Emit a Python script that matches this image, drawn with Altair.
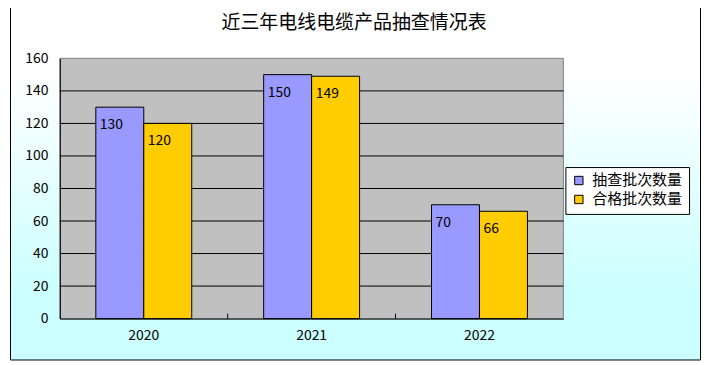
import altair as alt
import pandas as pd

years = ["2020", "2021", "2022"]
series = ["抽查批次数量", "合格批次数量"]
sampled = [130, 150, 70]
qualified = [120, 149, 66]
colors = ["#9999FF", "#FFCC00"]
y_ticks = [0, 20, 40, 60, 80, 100, 120, 140, 160]
grid_vals = [20, 40, 60, 80, 100, 120, 140]
title_text = "近三年电线电缆产品抽查情况表"

FONT = "Noto Sans CJK SC"
W, H = 505, 261

rows = []
for i, yr in enumerate(years):
    rows.append({"year": yr, "series": series[0], "value": sampled[i]})
    rows.append({"year": yr, "series": series[1], "value": qualified[i]})
df = pd.DataFrame(rows)

xscale = alt.Scale(domain=years, paddingInner=0, paddingOuter=0)
yscale = alt.Scale(domain=[0, 160], nice=False)
offscale = alt.Scale(domain=series, paddingInner=0, paddingOuter=0.75)

xaxis = alt.Axis(title=None, labelAngle=0, ticks=False, domain=True, domainColor="black",
                 labelFont=FONT, labelFontSize=14, labelColor="black", labelPadding=10,
                 zindex=1)
yaxis = alt.Axis(title=None, values=y_ticks, grid=False, ticks=False, domainColor="black",
                 labelOverlap=False, labelFont=FONT, labelFontSize=14, labelColor="black",
                 labelPadding=12, zindex=1)

one = pd.DataFrame({"a": [0]})

frame = alt.Chart(one).mark_rect(
    fill=alt.LinearGradient(
        gradient="linear", x1=0, y1=0, x2=0, y2=1,
        stops=[alt.GradientStop(color="#FFFFFF", offset=0),
               alt.GradientStop(color="#FFFFFF", offset=0.2),
               alt.GradientStop(color="#CCFFFF", offset=0.8),
               alt.GradientStop(color="#CCFFFF", offset=1)]),
    stroke="black", strokeWidth=1,
).encode(x=alt.value(-49.5), x2=alt.value(642.5), y=alt.value(-54.5), y2=alt.value(302.5))

plotbg = alt.Chart(one).mark_rect(fill="#C0C0C0", stroke="#808080", strokeWidth=1).encode(
    x=alt.value(0), x2=alt.value(W), y=alt.value(0), y2=alt.value(H))

grid = alt.Chart(pd.DataFrame({"g": grid_vals})).mark_rule(color="black", strokeWidth=1).encode(
    y=alt.Y("g:Q", scale=yscale, axis=yaxis), x=alt.value(0), x2=alt.value(W))

bars = alt.Chart(df).mark_bar(stroke="black", strokeWidth=1).encode(
    x=alt.X("year:N", scale=xscale, sort=years, axis=xaxis),
    xOffset=alt.XOffset("series:N", scale=offscale, sort=series),
    y=alt.Y("value:Q", scale=yscale, axis=yaxis),
    color=alt.Color("series:N", sort=series, scale=alt.Scale(domain=series, range=colors),
                    legend=alt.Legend(title=None, orient="none", legendX=507, legendY=109,
                                      padding=6, strokeColor="black", fillColor="white",
                                      symbolType="square", symbolSize=70, symbolStrokeColor="black",
                                      symbolStrokeWidth=1, labelFont=FONT, labelFontSize=15,
                                      labelColor="black", labelOffset=6, rowPadding=3, zindex=1)),
)

labels = alt.Chart(df).mark_text(align="left", baseline="middle", dx=-20, dy=18,
                                 font=FONT, fontSize=14, color="black").encode(
    x=alt.X("year:N", scale=xscale, sort=years, axis=xaxis),
    xOffset=alt.XOffset("series:N", scale=offscale, sort=series),
    y=alt.Y("value:Q", scale=yscale, axis=yaxis),
    text="value:Q",
)

ticks = alt.Chart(pd.DataFrame({"year": years[1:]})).mark_rule(color="black").encode(
    x=alt.X("year:N", scale=xscale, sort=years, bandPosition=0, axis=xaxis),
    y=alt.value(H - 5), y2=alt.value(H),
)

title = alt.Chart(pd.DataFrame({"t": [title_text]})).mark_text(
    font=FONT, fontSize=19, color="black", baseline="middle", align="center").encode(
    text="t:N", x=alt.value(295), y=alt.value(-35))

chart = alt.layer(frame, plotbg, grid, bars, labels, ticks, title).properties(
    width=W, height=H,
    padding={"left": 52, "top": 50, "right": 138, "bottom": 42},
    autosize="none",
    background="white",
).configure_view(stroke=None)

chart.save("out.html", embed_options={"renderer": "svg", "actions": False})
